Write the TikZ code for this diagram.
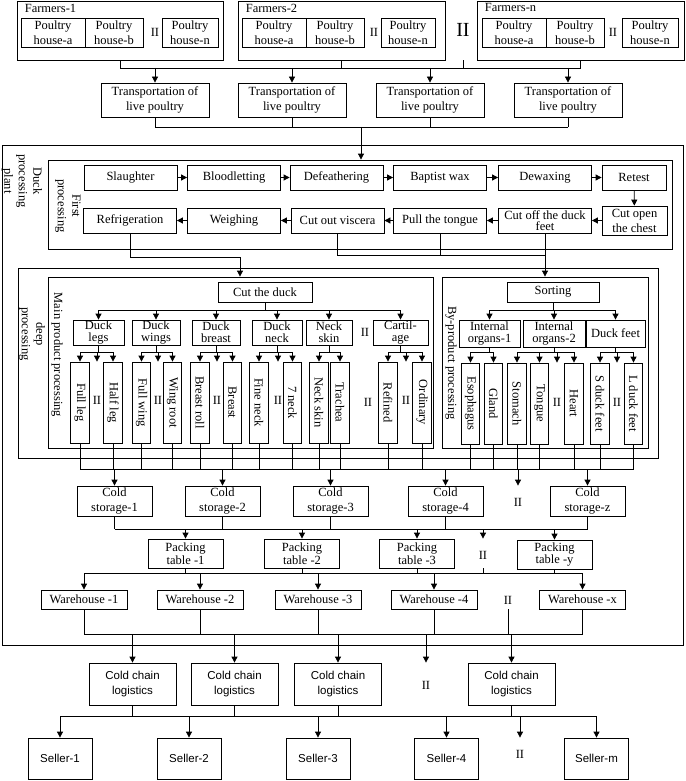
\documentclass[tikz,border=0pt]{standalone}
\usepackage{fontspec}
\setmainfont{Liberation Serif}
\newfontfamily\sansfont{Liberation Sans}
\usetikzlibrary{arrows.meta}
\newcommand{\tnr}{\fontsize{12.5}{15}\selectfont}
\newcommand{\tnrt}{\fontsize{12.5}{11.6}\selectfont}
\newcommand{\tnrl}{\fontsize{12.5}{14.5}\selectfont}
\newcommand{\snf}{\sansfont\fontsize{11.5}{15}\selectfont}
\newcommand{\dbl}{I\kern-0.3ptI}
\newcommand{\vlab}[1]{\rotatebox{-90}{#1}}

\begin{document}
\begin{tikzpicture}[x=1pt, y=-1pt,
  blk/.style={draw, line width=0.8pt, align=center, inner sep=0pt, font=\tnr},
  frame/.style={draw, line width=0.8pt, inner sep=0pt},
  house/.style={blk, minimum width=64pt, minimum height=29pt},
  trans/.style={blk, minimum width=108pt, minimum height=34pt},
  stepbox/.style={blk, minimum width=93pt, minimum height=25pt},
  cat/.style={blk, font=\tnrt, minimum height=25pt},
  item/.style={blk, minimum width=18.5pt, minimum height=81pt},
  cold/.style={blk, minimum width=75pt, minimum height=30pt},
  pack/.style={blk, font={\fontsize{12.5}{13}\selectfont}, minimum width=75pt, minimum height=29pt},
  ware/.style={blk, minimum width=86pt, minimum height=19pt},
  chain/.style={blk, font=\snf, minimum width=87pt, minimum height=42pt},
  seller/.style={blk, font=\snf, minimum width=64pt, minimum height=41pt},
  side/.style={rotate=-90, align=center, inner sep=0pt, font=\tnrl},
  etc/.style={inner sep=0pt, font=\tnr},
  ln/.style={line width=0.8pt},
  arr/.style={line width=0.8pt, -{Triangle[length=6pt,width=6pt]}}]
\useasboundingbox (0,0) rectangle (685,781);

% farmers
\node[frame, minimum width=206pt, minimum height=59pt] (fa1) at (120,30.5) {};
\node[frame, minimum width=207pt, minimum height=59pt] (fa2) at (341.5,30.5) {};
\node[frame, minimum width=207pt, minimum height=59pt] (fan) at (580.5,30.5) {};
\node[etc, anchor=north west] (fa1lab) at ([xshift=8pt,yshift=-3pt]fa1.north west) {Farmers-1};
\node[etc, anchor=north west] (fa2lab) at ([xshift=8pt,yshift=-3pt]fa2.north west) {Farmers-2};
\node[etc, anchor=north west] (fanlab) at ([xshift=8pt,yshift=-3pt]fan.north west) {Farmers-n};
\node[house] (h1a) at (53,32.5) {Poultry\\house-a};
\node[house, minimum width=58pt] (h1b) at (114,32.5) {Poultry\\house-b};
\node[etc] (p1h) at (155,32.5) {\dbl};
\node[house, minimum width=56pt] (h1n) at (190,32.5) {Poultry\\house-n};
\node[house] (h2a) at (274,32.5) {Poultry\\house-a};
\node[house, minimum width=58pt] (h2b) at (335,32.5) {Poultry\\house-b};
\node[etc] (p2h) at (374,32.5) {\dbl};
\node[house, minimum width=54pt] (h2n) at (408,32.5) {Poultry\\house-n};
\node[house] (hna) at (514,32.5) {Poultry\\house-a};
\node[house, minimum width=58pt] (hnb) at (575,32.5) {Poultry\\house-b};
\node[etc] (pnh) at (613,32.5) {\dbl};
\node[house, minimum width=56pt] (hnn) at (650,32.5) {Poultry\\house-n};
\node[inner sep=0pt, font={\fontsize{20}{20}\selectfont}] (pbig) at (463,30) {\dbl};

% live poultry transport
\node[trans] (t1) at (155,100) {Transportation of\\live poultry};
\node[trans] (t2) at (292,100) {Transportation of\\live poultry};
\node[trans] (t3) at (430,100) {Transportation of\\live poultry};
\node[trans] (t4) at (568,100) {Transportation of\\live poultry};

\coordinate (b1) at (0,68);
\foreach \n in {fa1,fa2,fan} \draw[ln] (\n.south) -- (\n.south |- b1);
\draw[ln] (pbig.center |- fa1.south) -- (pbig.center |- b1);
\draw[ln] (fa1.south |- b1) -- (fan.south |- b1);
\foreach \n in {t1,t2,t3,t4} \draw[arr] (\n.north |- b1) -- (\n.north);

% plant
\node[frame, minimum width=681pt, minimum height=500pt] (plant) at (342.5,395) {};
\node[side] (plantlab) at (22,181) {Duck\\processing\\plant};

% first processing
\node[frame, minimum width=624pt, minimum height=89pt] (fp) at (360,204.5) {};
\node[side] (fplab) at (68,206) {First\\processing};
\node[stepbox] (sl) at (130.5,177.5) {Slaughter};
\node[stepbox] (bl) at (234,177.5) {Bloodletting};
\node[stepbox] (de) at (336.5,177.5) {Defeathering};
\node[stepbox] (bw) at (440,177.5) {Baptist wax};
\node[stepbox] (dw) at (545,177.5) {Dewaxing};
\node[stepbox, minimum width=64pt] (rt) at (634,177.5) {Retest};
\node[stepbox] (rf) at (130,220.5) {Refrigeration};
\node[stepbox] (wg) at (234,220.5) {Weighing};
\node[stepbox] (cv) at (337.5,220.5) {Cut out viscera};
\node[stepbox] (pt) at (440,220.5) {Pull the tongue};
\node[stepbox, font=\tnrt] (cf) at (545,220.5) {Cut off the duck\\feet};
\node[stepbox, minimum width=65pt, minimum height=29pt] (co) at (634.5,220.5) {Cut open\\the chest};

\coordinate (b2) at (361,127);
\foreach \n in {t1,t2,t3,t4} \draw[ln] (\n.south) -- (\n.south |- b2);
\draw[ln] (t1.south |- b2) -- (t4.south |- b2);
\draw[arr] (b2) -- (b2 |- fp.north);

\draw[arr] (sl) -- (bl);
\draw[arr] (bl) -- (de);
\draw[arr] (de) -- (bw);
\draw[arr] (bw) -- (dw);
\draw[arr] (dw) -- (rt);
\draw[arr] (rt) -- (co);
\draw[arr] (co) -- (cf);
\draw[arr] (cf) -- (pt);
\draw[arr] (pt) -- (cv);
\draw[arr] (cv) -- (wg);
\draw[arr] (wg) -- (rf);

% deep processing
\node[frame, minimum width=640pt, minimum height=190pt] (dp) at (338,363) {};
\node[side] (dplab) at (32,334) {deep\\processing};
\node[frame, minimum width=385pt, minimum height=171pt] (mp) at (240.5,362.5) {};
\node[side] (mplab) at (57,355) {Main product processing};
\node[frame, minimum width=206pt, minimum height=171pt] (bp) at (545,362.5) {};
\node[side] (bplab) at (451,363) {By-product processing};

\coordinate (j1) at (240,257);
\coordinate (j2) at (545,255);
\draw[arr] (rf.south) |- (j1) -- (j1 |- mp.north);
\draw[ln] (cv.south) |- (j2);
\draw[ln] (pt.south) -- (pt.south |- j2);
\draw[arr] (cf.south) -- (cf.south |- bp.north);

\node[blk, minimum width=94pt, minimum height=20pt] (cd) at (265,292) {Cut the duck};
\node[blk, minimum width=92pt, minimum height=20pt] (so) at (553,292) {Sorting};

\node[cat, minimum width=51pt] (lg) at (98.5,332.5) {Duck\\legs};
\node[cat, minimum width=48pt] (wi) at (156,332.5) {Duck\\wings};
\node[cat, minimum width=48pt] (br) at (216,332.5) {Duck\\breast};
\node[cat, minimum width=50pt] (nk) at (277,332.5) {Duck\\neck};
\node[cat, minimum width=46pt] (ns) at (329,332.5) {Neck\\skin};
\node[etc] (pcat) at (365,332.5) {\dbl};
\node[cat, minimum width=55pt] (ca) at (400.5,332.5) {Cartil-\\age};
\node[cat, minimum width=61pt, minimum height=27pt] (io1) at (489.5,333.5) {Internal\\organs-1};
\node[cat, minimum width=62pt, minimum height=27pt] (io2) at (554,333.5) {Internal\\organs-2};
\node[cat, minimum width=59pt, minimum height=27pt] (df) at (615.5,333.5) {Duck feet};

\coordinate (b3) at (0,310);
\draw[ln] (cd.south) -- (cd.south |- b3);
\draw[ln] (lg.north |- b3) -- (ca.north |- b3);
\foreach \n in {lg,wi,br,nk,ns,ca} \draw[arr] (\n.north |- b3) -- (\n.north);
\draw[ln] (so.south) -- (so.south |- b3);
\draw[ln] (io1.north |- b3) -- (df.north |- b3);
\foreach \n in {io1,io2,df} \draw[arr] (\n.north |- b3) -- (\n.north);

% cut parts
\node[item] (fl) at (80,402.5) {\vlab{Full leg}};
\node[item] (hl) at (113,402.5) {\vlab{Half leg}};
\node[item] (fw) at (141.5,402.5) {\vlab{Full wing}};
\node[item] (wr) at (172.5,402.5) {\vlab{Wing root}};
\node[item] (brr) at (200,402.5) {\vlab{Breast roll}};
\node[item] (bre) at (232.5,402.5) {\vlab{Breast}};
\node[item] (fnk) at (259,402.5) {\vlab{Fine neck}};
\node[item] (snk) at (292.5,402.5) {\vlab{7 neck}};
\node[item] (nsk) at (319,402.5) {\vlab{Neck skin}};
\node[item] (tra) at (340,402.5) {\vlab{Trachea}};
\node[item] (ref) at (388,402.5) {\vlab{Refined}};
\node[item] (ord) at (422,402.5) {\vlab{Ordinary}};
\node[item] (eso) at (470.5,403.5) {\vlab{Esophagus}};
\node[item] (gla) at (493.5,403.5) {\vlab{Gland}};
\node[item] (sto) at (517,403.5) {\vlab{Stomach}};
\node[item] (ton) at (539.5,403.5) {\vlab{Tongue}};
\node[item] (hea) at (574,403.5) {\vlab{Heart}};
\node[item] (sdf) at (600,403.5) {\vlab{S duck feet}};
\node[item] (ldf) at (633.5,403.5) {\vlab{L duck feet}};
\node[etc] (p1) at (97,400) {\dbl};
\node[etc] (p2) at (158,400) {\dbl};
\node[etc] (p3) at (217,400) {\dbl};
\node[etc] (p4) at (278,400) {\dbl};
\node[etc] (p5) at (368,402) {\dbl};
\node[etc] (p6) at (406,400) {\dbl};
\node[etc] (p7) at (557,402) {\dbl};
\node[etc] (p8) at (617,402) {\dbl};

\coordinate (b4) at (0,352);
\foreach \c/\a/\p/\b in {lg/fl/p1/hl, wi/fw/p2/wr, br/brr/p3/bre, nk/fnk/p4/snk, ca/ref/p6/ord, df/sdf/p8/ldf} {
  \draw[ln] (\c.south) -- (\c.south |- b4);
  \draw[ln] (\a.north |- b4) -- (\b.north |- b4);
  \draw[arr] (\a.north |- b4) -- (\a.north);
  \draw[arr] (\p |- b4) -- (\p |- \a.north);
  \draw[arr] (\b.north |- b4) -- (\b.north);
}
\foreach \c/\a/\b in {ns/nsk/tra, io1/eso/gla} {
  \draw[ln] (\c.south) -- (\c.south |- b4);
  \draw[ln] (\a.north |- b4) -- (\b.north |- b4);
  \draw[arr] (\a.north |- b4) -- (\a.north);
  \draw[arr] (\b.north |- b4) -- (\b.north);
}
\draw[ln] (io2.south) -- (io2.south |- b4);
\draw[ln] (sto.north |- b4) -- (hea.north |- b4);
\foreach \n in {sto,ton,hea} \draw[arr] (\n.north |- b4) -- (\n.north);
\draw[arr] (p7 |- b4) -- (p7 |- sto.north);

% cold storage
\node[cold] (cs1) at (114.5,501) {Cold\\storage-1};
\node[cold] (cs2) at (222.5,501) {Cold\\storage-2};
\node[cold] (cs3) at (330.5,501) {Cold\\storage-3};
\node[cold] (cs4) at (445.5,501) {Cold\\storage-4};
\node[etc] (pc) at (518,502) {\dbl};
\node[cold] (csz) at (587.5,501) {Cold\\storage-z};

\coordinate (b5) at (0,469);
\foreach \n in {fl,hl,fw,wr,brr,bre,fnk,snk,nsk,tra,ref,ord,eso,gla,sto,ton,hea,sdf,ldf}
  \draw[ln] (\n.south) -- (\n.south |- b5);
\draw[ln] (fl.south |- b5) -- (ldf.south |- b5);
\foreach \n in {cs1,cs2,cs3,cs4,csz} \draw[arr] (\n.north |- b5) -- (\n.north);
\draw[arr] (pc |- b5) -- (pc |- cs1.north);

% packing
\node[pack] (pk1) at (185.5,553.5) {Packing\\table -1};
\node[pack] (pk2) at (302,553.5) {Packing\\table -2};
\node[pack] (pk3) at (417,553.5) {Packing\\table -3};
\node[etc] (pp) at (483,555) {\dbl};
\node[pack, font=\tnrt] (pky) at (554.5,554.5) {Packing\\table -y};

\coordinate (b6) at (0,529);
\foreach \n in {cs1,cs2,cs3,cs4,csz} \draw[ln] (\n.south) -- (\n.south |- b6);
\draw[ln] (cs1.south |- b6) -- (csz.south |- b6);
\foreach \n in {pk1,pk2,pk3,pky} \draw[arr] (\n.north |- b6) -- (\n.north);
\draw[arr] (pp |- b6) -- (pp |- pk1.north);

% warehouses
\node[ware] (wh1) at (84,599.5) {Warehouse -1};
\node[ware] (wh2) at (200,599.5) {Warehouse -2};
\node[ware] (wh3) at (318,599.5) {Warehouse -3};
\node[ware] (wh4) at (434,599.5) {Warehouse -4};
\node[etc] (pw) at (508,600) {\dbl};
\node[ware] (whx) at (582.5,599.5) {Warehouse -x};

\coordinate (b7) at (0,573);
\foreach \n in {pk1,pk2,pk3,pky} \draw[ln] (\n.south) -- (\n.south |- b7);
\draw[ln] (pp |- pk1.south) -- (pp |- b7);
\draw[ln] (wh1.north |- b7) -- (whx.north |- b7);
\foreach \n in {wh1,wh2,wh3,wh4,whx} \draw[arr] (\n.north |- b7) -- (\n.north);

% cold chain logistics
\node[chain] (cc1) at (132.5,684) {Cold chain\\logistics};
\node[chain] (cc2) at (234.5,684) {Cold chain\\logistics};
\node[chain] (cc3) at (338,684) {Cold chain\\logistics};
\node[etc] (pcc) at (426,685) {\dbl};
\node[chain] (ccn) at (511.5,684) {Cold chain\\logistics};

\coordinate (b8) at (0,634);
\foreach \n in {wh1,wh2,wh3,wh4,whx} \draw[ln] (\n.south) -- (\n.south |- b8);
\draw[ln] (pw |- wh1.south) -- (pw |- b8);
\draw[ln] (wh1.south |- b8) -- (whx.south |- b8);
\foreach \n in {cc1,cc2,cc3,ccn} \draw[arr] (\n.north |- b8) -- (\n.north);
\draw[arr] (pcc |- b8) -- (pcc |- cc1.north);

% sellers
\node[seller] (se1) at (60,758.5) {Seller-1};
\node[seller] (se2) at (189,758.5) {Seller-2};
\node[seller] (se3) at (318,758.5) {Seller-3};
\node[seller] (se4) at (446.5,758.5) {Seller-4};
\node[etc] (ps) at (520,754) {\dbl};
\node[seller] (sem) at (596.5,758.5) {Seller-m};

\coordinate (b9) at (0,716);
\foreach \n in {cc1,cc2,cc3,ccn} \draw[ln] (\n.south) -- (\n.south |- b9);
\draw[ln] (se1.north |- b9) -- (sem.north |- b9);
\foreach \n in {se1,se2,se3,se4,sem} \draw[arr] (\n.north |- b9) -- (\n.north);
\draw[arr] (ps |- b9) -- (ps |- se1.north);
\end{tikzpicture}
\end{document}
